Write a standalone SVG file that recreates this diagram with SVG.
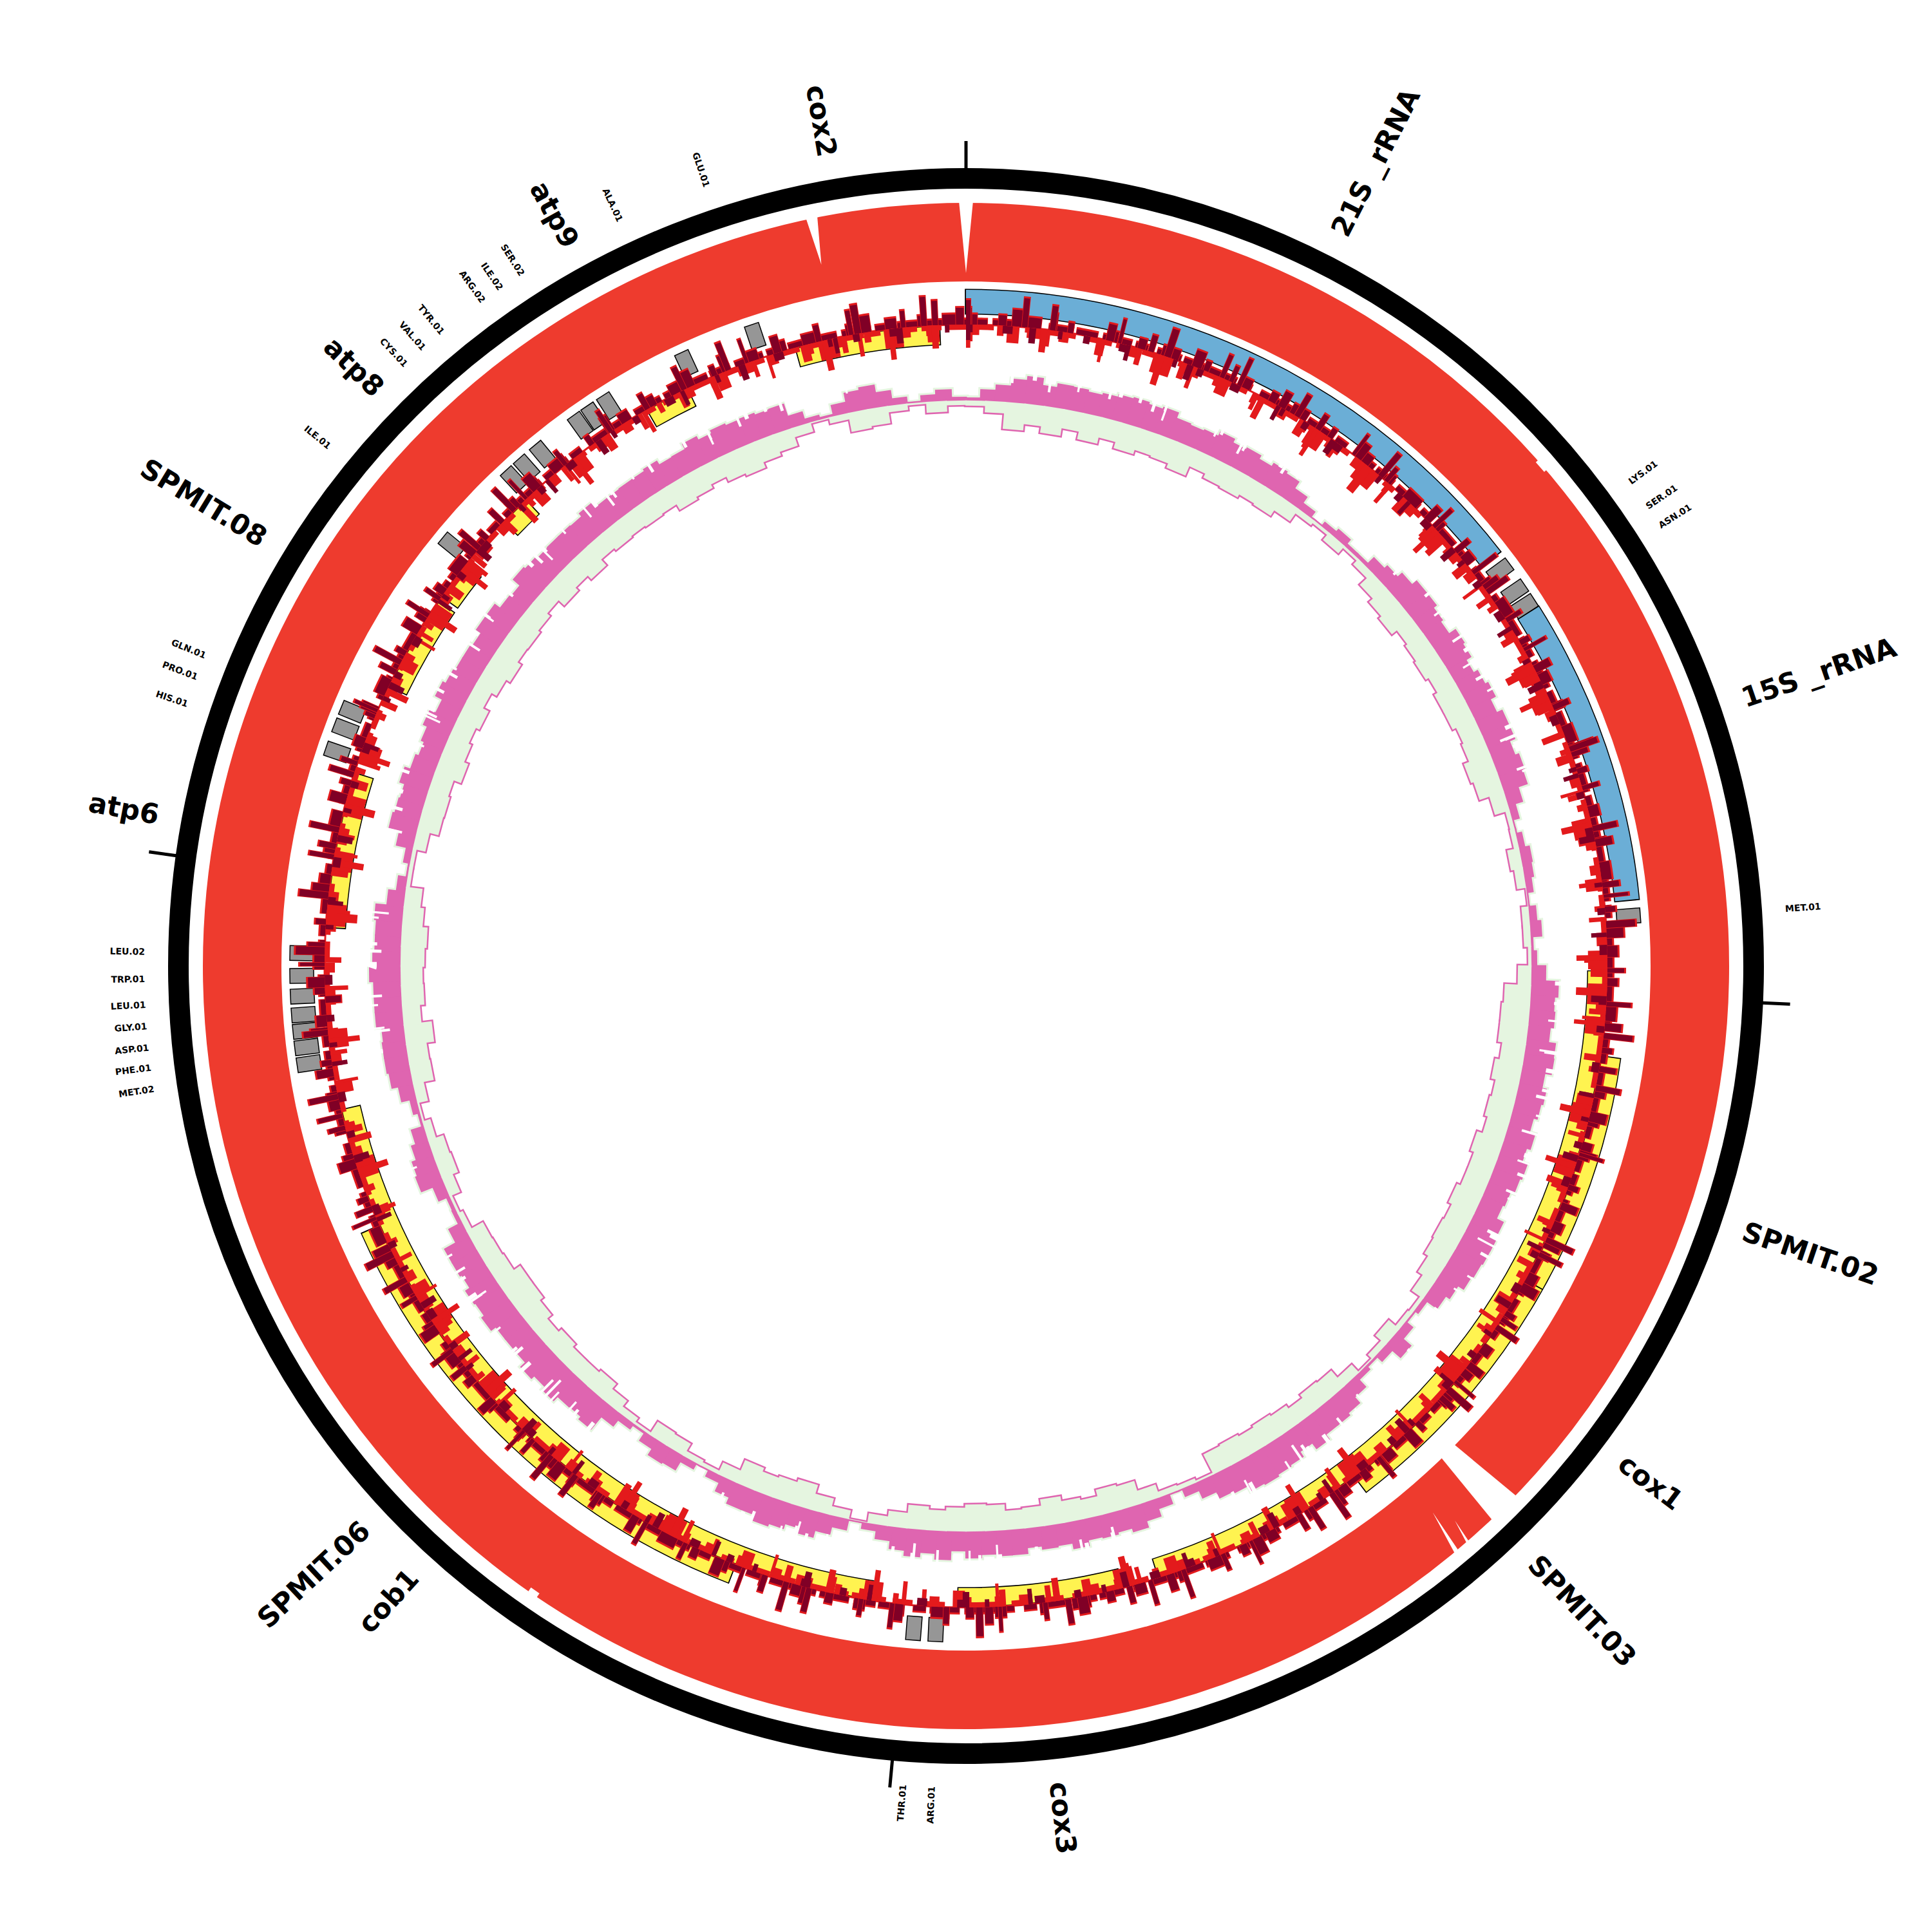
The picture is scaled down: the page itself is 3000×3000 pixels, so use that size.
<svg xmlns="http://www.w3.org/2000/svg" width="3000" height="3000" viewBox="0 0 3000 3000">
<style>
text{font-family:"DejaVu Sans","Liberation Sans",sans-serif;font-weight:bold;dominant-baseline:central;fill:#000}
.big{font-size:43px}
.sm{font-size:14px}
.l{text-anchor:end}
.tk{stroke:#000;stroke-width:5}
.tb{fill:#969696;stroke:#000;stroke-width:1.5}
.w{fill:#fff}
circle{fill:none}
</style>
<defs>
<rect id="tb" x="-11.5" y="-1050" width="23" height="37"/>
<g id="pf">
<path d="M-13-883h26v5h-26z" transform="rotate(.75)"/><path d="M-13-896h26v18h-26z" transform="rotate(2.25)"/><path d="M-13-904h26v26h-26z" transform="rotate(3.75)"/><path d="M-13-915h26v37h-26z" transform="rotate(5.25)"/><path d="M-13-921h26v43h-26z" transform="rotate(6.75)"/><path d="M-13-910h26v32h-26z" transform="rotate(8.25)"/><path d="M-13-916h26v38h-26z" transform="rotate(9.75)"/><path d="M-13-915h26v37h-26z" transform="rotate(11.25)"/><path d="M-13-912h26v34h-26z" transform="rotate(12.75)"/><path d="M-13-915h26v37h-26z" transform="rotate(14.25)"/><path d="M-13-919h26v41h-26z" transform="rotate(15.75)"/><path d="M-13-921h26v43h-26z" transform="rotate(17.25)"/><path d="M-13-918h26v40h-26z" transform="rotate(18.75)"/><path d="M-13-921h26v43h-26z" transform="rotate(20.25)"/><path d="M-13-912h26v34h-26z" transform="rotate(21.75)"/><path d="M-13-910h26v32h-26z" transform="rotate(23.25)"/><path d="M-13-912h26v34h-26z" transform="rotate(24.75)"/><path d="M-13-919h26v41h-26z" transform="rotate(26.25)"/><path d="M-13-913h26v35h-26z" transform="rotate(27.75)"/><path d="M-13-916h26v38h-26z" transform="rotate(29.25)"/><path d="M-13-910h26v32h-26z" transform="rotate(30.75)"/><path d="M-13-916h26v38h-26z" transform="rotate(32.25)"/><path d="M-13-913h26v35h-26z" transform="rotate(33.75)"/><path d="M-13-901h26v23h-26z" transform="rotate(35.25)"/><path d="M-13-890h26v12h-26z" transform="rotate(36.75)"/><path d="M-13-887h26v9h-26z" transform="rotate(39.75)"/><path d="M-13-892h26v14h-26z" transform="rotate(41.25)"/><path d="M-13-884h26v6h-26z" transform="rotate(42.75)"/><path d="M-13-884h26v6h-26z" transform="rotate(44.25)"/><path d="M-13-897h26v19h-26z" transform="rotate(45.75)"/><path d="M-13-903h26v25h-26z" transform="rotate(47.25)"/><path d="M-13-912h26v34h-26z" transform="rotate(48.75)"/><path d="M-13-921h26v43h-26z" transform="rotate(50.25)"/><path d="M-13-921h26v43h-26z" transform="rotate(51.75)"/><path d="M-13-915h26v37h-26z" transform="rotate(53.25)"/><path d="M-13-911h26v33h-26z" transform="rotate(54.75)"/><path d="M-13-923h26v45h-26z" transform="rotate(56.25)"/><path d="M-13-920h26v42h-26z" transform="rotate(57.75)"/><path d="M-13-911h26v33h-26z" transform="rotate(59.25)"/><path d="M-13-918h26v40h-26z" transform="rotate(60.75)"/><path d="M-13-923h26v45h-26z" transform="rotate(62.25)"/><path d="M-13-914h26v36h-26z" transform="rotate(63.75)"/><path d="M-13-923h26v45h-26z" transform="rotate(65.25)"/><path d="M-13-923h26v45h-26z" transform="rotate(66.75)"/><path d="M-13-914h26v36h-26z" transform="rotate(68.25)"/><path d="M-13-920h26v42h-26z" transform="rotate(69.75)"/><path d="M-13-917h26v39h-26z" transform="rotate(71.25)"/><path d="M-13-902h26v24h-26z" transform="rotate(72.75)"/><path d="M-13-890h26v12h-26z" transform="rotate(74.25)"/><path d="M-13-880h26v2h-26z" transform="rotate(75.75)"/><path d="M-13-888h26v10h-26z" transform="rotate(77.25)"/><path d="M-13-895h26v17h-26z" transform="rotate(78.75)"/><path d="M-13-893h26v15h-26z" transform="rotate(80.25)"/><path d="M-13-889h26v11h-26z" transform="rotate(81.75)"/><path d="M-13-880h26v2h-26z" transform="rotate(83.25)"/><path d="M-13-890h26v12h-26z" transform="rotate(84.75)"/><path d="M-13-896h26v18h-26z" transform="rotate(86.25)"/><path d="M-13-882h26v4h-26z" transform="rotate(87.75)"/><path d="M-13-887h26v9h-26z" transform="rotate(89.25)"/><path d="M-13-901h26v23h-26z" transform="rotate(90.75)"/><path d="M-13-921h26v43h-26z" transform="rotate(92.25)"/><path d="M-13-916h26v38h-26z" transform="rotate(93.75)"/><path d="M-13-918h26v40h-26z" transform="rotate(95.25)"/><path d="M-13-913h26v35h-26z" transform="rotate(96.75)"/><path d="M-13-924h26v46h-26z" transform="rotate(98.25)"/><path d="M-13-925h26v47h-26z" transform="rotate(99.75)"/><path d="M-13-915h26v37h-26z" transform="rotate(101.25)"/><path d="M-13-922h26v44h-26z" transform="rotate(102.75)"/><path d="M-13-919h26v41h-26z" transform="rotate(104.25)"/><path d="M-13-913h26v35h-26z" transform="rotate(105.75)"/><path d="M-13-922h26v44h-26z" transform="rotate(107.25)"/><path d="M-13-916h26v38h-26z" transform="rotate(108.75)"/><path d="M-13-925h26v47h-26z" transform="rotate(110.25)"/><path d="M-13-922h26v44h-26z" transform="rotate(111.75)"/><path d="M-13-916h26v38h-26z" transform="rotate(113.25)"/><path d="M-13-913h26v35h-26z" transform="rotate(114.75)"/><path d="M-13-925h26v47h-26z" transform="rotate(116.25)"/><path d="M-13-927h26v49h-26z" transform="rotate(117.75)"/><path d="M-13-927h26v49h-26z" transform="rotate(119.25)"/><path d="M-13-925h26v47h-26z" transform="rotate(120.75)"/><path d="M-13-922h26v44h-26z" transform="rotate(122.25)"/><path d="M-13-912h26v34h-26z" transform="rotate(123.75)"/><path d="M-13-905h26v27h-26z" transform="rotate(125.25)"/><path d="M-13-886h26v8h-26z" transform="rotate(126.75)"/><path d="M-13-881h26v3h-26z" transform="rotate(128.25)"/><path d="M-13-893h26v15h-26z" transform="rotate(129.75)"/><path d="M-13-909h26v31h-26z" transform="rotate(131.25)"/><path d="M-13-892h26v14h-26z" transform="rotate(132.75)"/><path d="M-13-882h26v4h-26z" transform="rotate(134.25)"/><path d="M-13-887h26v9h-26z" transform="rotate(135.75)"/><path d="M-13-902h26v24h-26z" transform="rotate(137.25)"/><path d="M-13-914h26v36h-26z" transform="rotate(138.75)"/><path d="M-13-918h26v40h-26z" transform="rotate(140.25)"/><path d="M-13-918h26v40h-26z" transform="rotate(141.75)"/><path d="M-13-927h26v49h-26z" transform="rotate(143.25)"/><path d="M-13-916h26v38h-26z" transform="rotate(144.75)"/><path d="M-13-925h26v47h-26z" transform="rotate(146.25)"/><path d="M-13-927h26v49h-26z" transform="rotate(147.75)"/><path d="M-13-930h26v52h-26z" transform="rotate(149.25)"/><path d="M-13-928h26v50h-26z" transform="rotate(150.75)"/><path d="M-13-919h26v41h-26z" transform="rotate(152.25)"/><path d="M-13-916h26v38h-26z" transform="rotate(153.75)"/><path d="M-13-905h26v27h-26z" transform="rotate(155.25)"/><path d="M-13-892h26v14h-26z" transform="rotate(156.75)"/><path d="M-13-880h26v2h-26z" transform="rotate(158.25)"/><path d="M-13-895h26v17h-26z" transform="rotate(159.75)"/><path d="M-13-907h26v29h-26z" transform="rotate(161.25)"/><path d="M-13-917h26v39h-26z" transform="rotate(162.75)"/><path d="M-13-911h26v33h-26z" transform="rotate(164.25)"/><path d="M-13-914h26v36h-26z" transform="rotate(165.75)"/><path d="M-13-912h26v34h-26z" transform="rotate(167.25)"/><path d="M-13-921h26v43h-26z" transform="rotate(168.75)"/><path d="M-13-912h26v34h-26z" transform="rotate(170.25)"/><path d="M-13-914h26v36h-26z" transform="rotate(171.75)"/><path d="M-13-909h26v31h-26z" transform="rotate(173.25)"/><path d="M-13-918h26v40h-26z" transform="rotate(174.75)"/><path d="M-13-918h26v40h-26z" transform="rotate(176.25)"/><path d="M-13-915h26v37h-26z" transform="rotate(177.75)"/><path d="M-13-920h26v42h-26z" transform="rotate(179.25)"/><path d="M-13-909h26v31h-26z" transform="rotate(180.75)"/><path d="M-13-923h26v45h-26z" transform="rotate(182.25)"/><path d="M-13-914h26v36h-26z" transform="rotate(183.75)"/><path d="M-13-921h26v43h-26z" transform="rotate(185.25)"/><path d="M-13-913h26v35h-26z" transform="rotate(186.75)"/><path d="M-13-901h26v23h-26z" transform="rotate(188.25)"/><path d="M-13-889h26v11h-26z" transform="rotate(189.75)"/><path d="M-13-880h26v2h-26z" transform="rotate(191.25)"/><path d="M-13-896h26v18h-26z" transform="rotate(192.75)"/><path d="M-13-908h26v30h-26z" transform="rotate(194.25)"/><path d="M-13-919h26v41h-26z" transform="rotate(195.75)"/><path d="M-13-911h26v33h-26z" transform="rotate(197.25)"/><path d="M-13-919h26v41h-26z" transform="rotate(198.75)"/><path d="M-13-923h26v45h-26z" transform="rotate(200.25)"/><path d="M-13-914h26v36h-26z" transform="rotate(201.75)"/><path d="M-13-914h26v36h-26z" transform="rotate(203.25)"/><path d="M-13-904h26v26h-26z" transform="rotate(204.75)"/><path d="M-13-890h26v12h-26z" transform="rotate(206.25)"/><path d="M-13-889h26v11h-26z" transform="rotate(209.25)"/><path d="M-13-904h26v26h-26z" transform="rotate(210.75)"/><path d="M-13-906h26v28h-26z" transform="rotate(212.25)"/><path d="M-13-895h26v17h-26z" transform="rotate(213.75)"/><path d="M-13-882h26v4h-26z" transform="rotate(215.25)"/><path d="M-13-889h26v11h-26z" transform="rotate(216.75)"/><path d="M-13-901h26v23h-26z" transform="rotate(218.25)"/><path d="M-13-926h26v48h-26z" transform="rotate(219.75)"/><path d="M-13-921h26v43h-26z" transform="rotate(221.25)"/><path d="M-13-922h26v44h-26z" transform="rotate(222.75)"/><path d="M-13-931h26v53h-26z" transform="rotate(224.25)"/><path d="M-13-925h26v47h-26z" transform="rotate(225.75)"/><path d="M-13-931h26v53h-26z" transform="rotate(227.25)"/><path d="M-13-921h26v43h-26z" transform="rotate(228.75)"/><path d="M-13-921h26v43h-26z" transform="rotate(230.25)"/><path d="M-13-921h26v43h-26z" transform="rotate(231.75)"/><path d="M-13-930h26v52h-26z" transform="rotate(233.25)"/><path d="M-13-925h26v47h-26z" transform="rotate(234.75)"/><path d="M-13-927h26v49h-26z" transform="rotate(236.25)"/><path d="M-13-919h26v41h-26z" transform="rotate(237.75)"/><path d="M-13-922h26v44h-26z" transform="rotate(239.25)"/><path d="M-13-922h26v44h-26z" transform="rotate(240.75)"/><path d="M-13-902h26v24h-26z" transform="rotate(242.25)"/><path d="M-13-885h26v7h-26z" transform="rotate(243.75)"/><path d="M-13-884h26v6h-26z" transform="rotate(245.25)"/><path d="M-13-897h26v19h-26z" transform="rotate(246.75)"/><path d="M-13-916h26v38h-26z" transform="rotate(248.25)"/><path d="M-13-913h26v35h-26z" transform="rotate(249.75)"/><path d="M-13-906h26v28h-26z" transform="rotate(251.25)"/><path d="M-13-899h26v21h-26z" transform="rotate(252.75)"/><path d="M-13-882h26v4h-26z" transform="rotate(254.25)"/><path d="M-13-889h26v11h-26z" transform="rotate(255.75)"/><path d="M-13-902h26v24h-26z" transform="rotate(257.25)"/><path d="M-13-912h26v34h-26z" transform="rotate(258.75)"/><path d="M-13-915h26v37h-26z" transform="rotate(260.25)"/><path d="M-13-915h26v37h-26z" transform="rotate(261.75)"/><path d="M-13-913h26v35h-26z" transform="rotate(263.25)"/><path d="M-13-921h26v43h-26z" transform="rotate(264.75)"/><path d="M-13-921h26v43h-26z" transform="rotate(266.25)"/><path d="M-13-921h26v43h-26z" transform="rotate(267.75)"/><path d="M-13-927h26v49h-26z" transform="rotate(269.25)"/><path d="M-13-922h26v44h-26z" transform="rotate(270.75)"/><path d="M-13-919h26v41h-26z" transform="rotate(272.25)"/><path d="M-13-919h26v41h-26z" transform="rotate(273.75)"/><path d="M-13-922h26v44h-26z" transform="rotate(275.25)"/><path d="M-13-905h26v27h-26z" transform="rotate(276.75)"/><path d="M-13-893h26v15h-26z" transform="rotate(278.25)"/><path d="M-13-881h26v3h-26z" transform="rotate(279.75)"/><path d="M-13-889h26v11h-26z" transform="rotate(281.25)"/><path d="M-13-905h26v27h-26z" transform="rotate(282.75)"/><path d="M-13-922h26v44h-26z" transform="rotate(284.25)"/><path d="M-13-919h26v41h-26z" transform="rotate(285.75)"/><path d="M-13-917h26v39h-26z" transform="rotate(287.25)"/><path d="M-13-925h26v47h-26z" transform="rotate(288.75)"/><path d="M-13-916h26v38h-26z" transform="rotate(290.25)"/><path d="M-13-911h26v33h-26z" transform="rotate(291.75)"/><path d="M-13-916h26v38h-26z" transform="rotate(293.25)"/><path d="M-13-923h26v45h-26z" transform="rotate(294.75)"/><path d="M-13-913h26v35h-26z" transform="rotate(296.25)"/><path d="M-13-925h26v47h-26z" transform="rotate(297.75)"/><path d="M-13-920h26v42h-26z" transform="rotate(299.25)"/><path d="M-13-917h26v39h-26z" transform="rotate(300.75)"/><path d="M-13-917h26v39h-26z" transform="rotate(302.25)"/><path d="M-13-914h26v36h-26z" transform="rotate(303.75)"/><path d="M-13-923h26v45h-26z" transform="rotate(305.25)"/><path d="M-13-923h26v45h-26z" transform="rotate(306.75)"/><path d="M-13-913h26v35h-26z" transform="rotate(308.25)"/><path d="M-13-911h26v33h-26z" transform="rotate(309.75)"/><path d="M-13-925h26v47h-26z" transform="rotate(311.25)"/><path d="M-13-922h26v44h-26z" transform="rotate(312.75)"/><path d="M-13-919h26v41h-26z" transform="rotate(314.25)"/><path d="M-13-920h26v42h-26z" transform="rotate(315.75)"/><path d="M-13-920h26v42h-26z" transform="rotate(317.25)"/><path d="M-13-919h26v41h-26z" transform="rotate(318.75)"/><path d="M-13-925h26v47h-26z" transform="rotate(320.25)"/><path d="M-13-916h26v38h-26z" transform="rotate(321.75)"/><path d="M-13-916h26v38h-26z" transform="rotate(323.25)"/><path d="M-13-917h26v39h-26z" transform="rotate(324.75)"/><path d="M-13-917h26v39h-26z" transform="rotate(326.25)"/><path d="M-13-920h26v42h-26z" transform="rotate(327.75)"/><path d="M-13-913h26v35h-26z" transform="rotate(329.25)"/><path d="M-13-914h26v36h-26z" transform="rotate(330.75)"/><path d="M-13-923h26v45h-26z" transform="rotate(332.25)"/><path d="M-13-917h26v39h-26z" transform="rotate(333.75)"/><path d="M-13-922h26v44h-26z" transform="rotate(335.25)"/><path d="M-13-919h26v41h-26z" transform="rotate(336.75)"/><path d="M-13-920h26v42h-26z" transform="rotate(338.25)"/><path d="M-13-917h26v39h-26z" transform="rotate(339.75)"/><path d="M-13-918h26v40h-26z" transform="rotate(341.25)"/><path d="M-13-898h26v20h-26z" transform="rotate(342.75)"/><path d="M-13-886h26v8h-26z" transform="rotate(344.25)"/><path d="M-13-882h26v4h-26z" transform="rotate(345.75)"/><path d="M-13-896h26v18h-26z" transform="rotate(347.25)"/><path d="M-13-910h26v32h-26z" transform="rotate(348.75)"/><path d="M-13-914h26v36h-26z" transform="rotate(350.25)"/><path d="M-13-902h26v24h-26z" transform="rotate(351.75)"/><path d="M-13-889h26v11h-26z" transform="rotate(353.25)"/><path d="M-13-880h26v2h-26z" transform="rotate(354.75)"/><path d="M-13-889h26v11h-26z" transform="rotate(356.25)"/><path d="M-13-896h26v18h-26z" transform="rotate(357.75)"/><path d="M-13-884h26v6h-26z" transform="rotate(359.25)"/>
</g>
<g id="gf">
<path d="M-16-878h32v8h-32z" transform="rotate(1)"/><path d="M-16-878h32v18h-32z" transform="rotate(3)"/><path d="M-16-878h32v42h-32z" transform="rotate(5)"/><path d="M-16-878h32v32h-32z" transform="rotate(7)"/><path d="M-16-878h32v42h-32z" transform="rotate(9)"/><path d="M-16-878h32v30h-32z" transform="rotate(11)"/><path d="M-16-878h32v42h-32z" transform="rotate(13)"/><path d="M-16-878h32v32h-32z" transform="rotate(15)"/><path d="M-16-878h32v42h-32z" transform="rotate(17)"/><path d="M-16-878h32v35h-32z" transform="rotate(19)"/><path d="M-16-878h32v37h-32z" transform="rotate(21)"/><path d="M-16-878h32v44h-32z" transform="rotate(23)"/><path d="M-16-878h32v28h-32z" transform="rotate(25)"/><path d="M-16-878h32v35h-32z" transform="rotate(27)"/><path d="M-16-878h32v37h-32z" transform="rotate(29)"/><path d="M-16-878h32v32h-32z" transform="rotate(31)"/><path d="M-16-878h32v34h-32z" transform="rotate(33)"/><path d="M-16-878h32v24h-32z" transform="rotate(35)"/><path d="M-16-878h32v9h-32z" transform="rotate(37)"/><path d="M-16-878h32v5h-32z" transform="rotate(39)"/><path d="M-16-878h32v15h-32z" transform="rotate(41)"/><path d="M-16-878h32v4h-32z" transform="rotate(43)"/><path d="M-16-878h32v12h-32z" transform="rotate(45)"/><path d="M-16-878h32v27h-32z" transform="rotate(47)"/><path d="M-16-878h32v35h-32z" transform="rotate(49)"/><path d="M-16-878h32v40h-32z" transform="rotate(51)"/><path d="M-16-878h32v30h-32z" transform="rotate(53)"/><path d="M-16-878h32v34h-32z" transform="rotate(55)"/><path d="M-16-878h32v37h-32z" transform="rotate(57)"/><path d="M-16-878h32v32h-32z" transform="rotate(59)"/><path d="M-16-878h32v38h-32z" transform="rotate(61)"/><path d="M-16-878h32v38h-32z" transform="rotate(63)"/><path d="M-16-878h32v32h-32z" transform="rotate(65)"/><path d="M-16-878h32v35h-32z" transform="rotate(67)"/><path d="M-16-878h32v44h-32z" transform="rotate(69)"/><path d="M-16-878h32v40h-32z" transform="rotate(71)"/><path d="M-16-878h32v24h-32z" transform="rotate(73)"/><path d="M-16-878h32v7h-32z" transform="rotate(75)"/><path d="M-16-878h32v8h-32z" transform="rotate(77)"/><path d="M-16-878h32v19h-32z" transform="rotate(79)"/><path d="M-16-878h32v14h-32z" transform="rotate(81)"/><path d="M-16-878h32v1h-32z" transform="rotate(83)"/><path d="M-16-878h32v11h-32z" transform="rotate(85)"/><path d="M-16-878h32v11h-32z" transform="rotate(87)"/><path d="M-16-878h32v5h-32z" transform="rotate(89)"/><path d="M-16-878h32v21h-32z" transform="rotate(91)"/><path d="M-16-878h32v41h-32z" transform="rotate(93)"/><path d="M-16-878h32v44h-32z" transform="rotate(95)"/><path d="M-16-878h32v44h-32z" transform="rotate(97)"/><path d="M-16-878h32v37h-32z" transform="rotate(99)"/><path d="M-16-878h32v44h-32z" transform="rotate(101)"/><path d="M-16-878h32v37h-32z" transform="rotate(103)"/><path d="M-16-878h32v40h-32z" transform="rotate(105)"/><path d="M-16-878h32v35h-32z" transform="rotate(107)"/><path d="M-16-878h32v44h-32z" transform="rotate(109)"/><path d="M-16-878h32v38h-32z" transform="rotate(111)"/><path d="M-16-878h32v38h-32z" transform="rotate(113)"/><path d="M-16-878h32v44h-32z" transform="rotate(115)"/><path d="M-16-878h32v38h-32z" transform="rotate(117)"/><path d="M-16-878h32v40h-32z" transform="rotate(119)"/><path d="M-16-878h32v38h-32z" transform="rotate(121)"/><path d="M-16-878h32v31h-32z" transform="rotate(123)"/><path d="M-16-878h32v22h-32z" transform="rotate(125)"/><path d="M-16-878h32v6h-32z" transform="rotate(127)"/><path d="M-16-878h32v8h-32z" transform="rotate(129)"/><path d="M-16-878h32v22h-32z" transform="rotate(131)"/><path d="M-16-878h32v10h-32z" transform="rotate(133)"/><path d="M-16-878h32v2h-32z" transform="rotate(135)"/><path d="M-16-878h32v17h-32z" transform="rotate(137)"/><path d="M-16-878h32v32h-32z" transform="rotate(139)"/><path d="M-16-878h32v34h-32z" transform="rotate(141)"/><path d="M-16-878h32v28h-32z" transform="rotate(143)"/><path d="M-16-878h32v34h-32z" transform="rotate(145)"/><path d="M-16-878h32v37h-32z" transform="rotate(147)"/><path d="M-16-878h32v34h-32z" transform="rotate(149)"/><path d="M-16-878h32v37h-32z" transform="rotate(151)"/><path d="M-16-878h32v35h-32z" transform="rotate(153)"/><path d="M-16-878h32v3h-32z" transform="rotate(155)"/><path d="M-16-878h32v7h-32z" transform="rotate(157)"/><path d="M-16-878h32v9h-32z" transform="rotate(159)"/><path d="M-16-878h32v21h-32z" transform="rotate(161)"/><path d="M-16-878h32v37h-32z" transform="rotate(163)"/><path d="M-16-878h32v40h-32z" transform="rotate(165)"/><path d="M-16-878h32v30h-32z" transform="rotate(167)"/><path d="M-16-878h32v34h-32z" transform="rotate(169)"/><path d="M-16-878h32v42h-32z" transform="rotate(171)"/><path d="M-16-878h32v32h-32z" transform="rotate(173)"/><path d="M-16-878h32v30h-32z" transform="rotate(175)"/><path d="M-16-878h32v40h-32z" transform="rotate(177)"/><path d="M-16-878h32v42h-32z" transform="rotate(179)"/><path d="M-16-878h32v37h-32z" transform="rotate(181)"/><path d="M-16-878h32v32h-32z" transform="rotate(183)"/><path d="M-16-878h32v37h-32z" transform="rotate(185)"/><path d="M-16-878h32v24h-32z" transform="rotate(187)"/><path d="M-16-878h32v15h-32z" transform="rotate(189)"/><path d="M-16-878h32v1h-32z" transform="rotate(191)"/><path d="M-16-878h32v14h-32z" transform="rotate(193)"/><path d="M-16-878h32v26h-32z" transform="rotate(195)"/><path d="M-16-878h32v40h-32z" transform="rotate(197)"/><path d="M-16-878h32v35h-32z" transform="rotate(199)"/><path d="M-16-878h32v32h-32z" transform="rotate(201)"/><path d="M-16-878h32v38h-32z" transform="rotate(203)"/><path d="M-16-878h32v20h-32z" transform="rotate(205)"/><path d="M-16-878h32v6h-32z" transform="rotate(207)"/><path d="M-16-878h32v9h-32z" transform="rotate(209)"/><path d="M-16-878h32v22h-32z" transform="rotate(211)"/><path d="M-16-878h32v24h-32z" transform="rotate(213)"/><path d="M-16-878h32v4h-32z" transform="rotate(215)"/><path d="M-16-878h32v11h-32z" transform="rotate(217)"/><path d="M-16-878h32v22h-32z" transform="rotate(219)"/><path d="M-16-878h32v32h-32z" transform="rotate(221)"/><path d="M-16-878h32v28h-32z" transform="rotate(223)"/><path d="M-16-878h32v28h-32z" transform="rotate(225)"/><path d="M-16-878h32v34h-32z" transform="rotate(227)"/><path d="M-16-878h32v28h-32z" transform="rotate(229)"/><path d="M-16-878h32v37h-32z" transform="rotate(231)"/><path d="M-16-878h32v44h-32z" transform="rotate(233)"/><path d="M-16-878h32v44h-32z" transform="rotate(235)"/><path d="M-16-878h32v32h-32z" transform="rotate(237)"/><path d="M-16-878h32v30h-32z" transform="rotate(239)"/><path d="M-16-878h32v29h-32z" transform="rotate(241)"/><path d="M-16-878h32v9h-32z" transform="rotate(243)"/><path d="M-16-878h32v4h-32z" transform="rotate(245)"/><path d="M-16-878h32v18h-32z" transform="rotate(247)"/><path d="M-16-878h32v27h-32z" transform="rotate(249)"/><path d="M-16-878h32v25h-32z" transform="rotate(251)"/><path d="M-16-878h32v13h-32z" transform="rotate(253)"/><path d="M-16-878h32v3h-32z" transform="rotate(255)"/><path d="M-16-878h32v17h-32z" transform="rotate(257)"/><path d="M-16-878h32v33h-32z" transform="rotate(259)"/><path d="M-16-878h32v32h-32z" transform="rotate(261)"/><path d="M-16-878h32v44h-32z" transform="rotate(263)"/><path d="M-16-878h32v28h-32z" transform="rotate(265)"/><path d="M-16-878h32v35h-32z" transform="rotate(267)"/><path d="M-16-878h32v34h-32z" transform="rotate(269)"/><path d="M-16-878h32v37h-32z" transform="rotate(271)"/><path d="M-16-878h32v40h-32z" transform="rotate(273)"/><path d="M-16-878h32v32h-32z" transform="rotate(275)"/><path d="M-16-878h32v26h-32z" transform="rotate(277)"/><path d="M-16-878h32v6h-32z" transform="rotate(279)"/><path d="M-16-878h32v6h-32z" transform="rotate(281)"/><path d="M-16-878h32v20h-32z" transform="rotate(283)"/><path d="M-16-878h32v34h-32z" transform="rotate(285)"/><path d="M-16-878h32v35h-32z" transform="rotate(287)"/><path d="M-16-878h32v32h-32z" transform="rotate(289)"/><path d="M-16-878h32v44h-32z" transform="rotate(291)"/><path d="M-16-878h32v37h-32z" transform="rotate(293)"/><path d="M-16-878h32v32h-32z" transform="rotate(295)"/><path d="M-16-878h32v38h-32z" transform="rotate(297)"/><path d="M-16-878h32v28h-32z" transform="rotate(299)"/><path d="M-16-878h32v37h-32z" transform="rotate(301)"/><path d="M-16-878h32v44h-32z" transform="rotate(303)"/><path d="M-16-878h32v37h-32z" transform="rotate(305)"/><path d="M-16-878h32v38h-32z" transform="rotate(307)"/><path d="M-16-878h32v34h-32z" transform="rotate(309)"/><path d="M-16-878h32v28h-32z" transform="rotate(311)"/><path d="M-16-878h32v40h-32z" transform="rotate(313)"/><path d="M-16-878h32v34h-32z" transform="rotate(315)"/><path d="M-16-878h32v42h-32z" transform="rotate(317)"/><path d="M-16-878h32v30h-32z" transform="rotate(319)"/><path d="M-16-878h32v34h-32z" transform="rotate(321)"/><path d="M-16-878h32v32h-32z" transform="rotate(323)"/><path d="M-16-878h32v34h-32z" transform="rotate(325)"/><path d="M-16-878h32v32h-32z" transform="rotate(327)"/><path d="M-16-878h32v42h-32z" transform="rotate(329)"/><path d="M-16-878h32v38h-32z" transform="rotate(331)"/><path d="M-16-878h32v32h-32z" transform="rotate(333)"/><path d="M-16-878h32v40h-32z" transform="rotate(335)"/><path d="M-16-878h32v44h-32z" transform="rotate(337)"/><path d="M-16-878h32v35h-32z" transform="rotate(339)"/><path d="M-16-878h32v29h-32z" transform="rotate(341)"/><path d="M-16-878h32v15h-32z" transform="rotate(343)"/><path d="M-16-878h32v2h-32z" transform="rotate(345)"/><path d="M-16-878h32v10h-32z" transform="rotate(347)"/><path d="M-16-878h32v30h-32z" transform="rotate(349)"/><path d="M-16-878h32v27h-32z" transform="rotate(351)"/><path d="M-16-878h32v10h-32z" transform="rotate(353)"/><path d="M-16-878h32v3h-32z" transform="rotate(355)"/><path d="M-16-878h32v17h-32z" transform="rotate(357)"/><path d="M-16-878h32v7h-32z" transform="rotate(359)"/>
</g>
</defs>
<rect width="3000" height="3000" fill="#fff"/>
<g id="plot" transform="translate(1500 1500)">
<g id="ideogram">
<circle r="1223" stroke="#000" stroke-width="32"/>
<line class="tk" y1="-1238" y2="-1281"/>
<line class="tk" y1="-1238" y2="-1281" transform="rotate(92.65)"/>
<line class="tk" y1="-1238" y2="-1281" transform="rotate(185.3)"/>
<line class="tk" y1="-1238" y2="-1281" transform="rotate(277.95)"/>
</g>
<g id="coverage">
<circle r="1124" stroke="#ee3b2e" stroke-width="122"/>
<polygon class="w" points="-11.4,-1192 11.4,-1192 0,-1076"/>
<polygon class="w" points="-9.5,-1192 9.5,-1192 0,-1112" transform="rotate(348.35)"/>
<rect class="w" x="-10" y="-1192" width="20" height="11" transform="rotate(49)"/>
<polygon class="w" points="-13.8,-1056 13.8,-1056 27,-1192 -27,-1192" transform="rotate(135.2)"/>
<polygon class="w" points="5.8,-1192 10.8,-1192 0,-1148" transform="rotate(138.6)"/>
<polygon class="w" points="8.5,-1192 16.5,-1192 0,-1116" transform="rotate(139.5)"/>
<rect class="w" x="-8" y="-1192" width="16" height="14" transform="rotate(214.6)"/>
</g>
<g id="gc-track">
<use href="#pf" fill="#e5f5e0" stroke="#e5f5e0" stroke-width="6"/>
<use href="#pf" fill="#df65b0"/>
<circle r="932.5" stroke="#fff" stroke-width="35" pathLength="360" stroke-dasharray=".3 2.3 .2 3.7 .4 1.6" transform="rotate(-90)"/>
<circle r="929" stroke="#fff" stroke-width="42" pathLength="360" stroke-dasharray=".25 4.1 .3 6.3 .2 2.9" transform="rotate(-90)"/>
<circle r="925" stroke="#fff" stroke-width="50" pathLength="360" stroke-dasharray=".2 7.9 .25 11.3" transform="rotate(-90)"/>
<use href="#gf" fill="#df65b0" stroke="#df65b0" stroke-width="5"/>
<use href="#gf" fill="#e5f5e0"/>
</g>
<g id="genes">
<circle r="980" stroke="#000" stroke-width="31" pathLength="360" stroke-dasharray="0 90.4 72.2 3.2 15 7.5 68.8 16.3 14.2 8.2 8.9 0.4 3.7 5 2.9 13.4 4.2 10.2 13.2 10" transform="rotate(-90)"/>
<circle r="980" stroke="#fff350" stroke-width="28" pathLength="360" stroke-dasharray="0 90.5 72 3.4 14.8 7.7 68.6 16.5 14 8.4 8.7 0.6 3.5 5.2 2.7 13.6 4 10.4 13 10" transform="rotate(-90)"/>
<circle r="1012" stroke="#000" stroke-width="31" pathLength="360" stroke-dasharray="0 98 44.8 58.2 45.2 200" transform="rotate(-90)"/>
<circle r="1012" stroke="#fff350" stroke-width="28" pathLength="360" stroke-dasharray="0 98.1 21.15 0.1 23.35 58.4 45 200" transform="rotate(-90)"/>
<circle r="1031.5" stroke="#000" stroke-width="40" pathLength="360" stroke-dasharray="52.4 5.5 26.6 400" transform="rotate(-90.1)"/>
<circle r="1031.5" stroke="#6baed6" stroke-width="37" pathLength="360" stroke-dasharray="52.2 5.7 26.4 400" transform="rotate(-90)"/>
<g id="trna">
<use href="#tb" class="tb" transform="rotate(341.5)"/><use href="#tb" class="tb" transform="rotate(335.1)"/><use href="#tb" class="tb" transform="rotate(327.5)"/><use href="#tb" class="tb" transform="rotate(325.9)"/><use href="#tb" class="tb" transform="rotate(324.5)"/><use href="#tb" class="tb" transform="rotate(320.4)"/><use href="#tb" class="tb" transform="rotate(318.6)"/><use href="#tb" class="tb" transform="rotate(317.1)"/><use href="#tb" class="tb" transform="rotate(309.3)"/><use href="#tb" class="tb" transform="rotate(292.5)"/><use href="#tb" class="tb" transform="rotate(290.9)"/><use href="#tb" class="tb" transform="rotate(288.8)"/><use href="#tb" class="tb" transform="rotate(271.1)"/><use href="#tb" class="tb" transform="rotate(269.15)"/><use href="#tb" class="tb" transform="rotate(267.4)"/><use href="#tb" class="tb" transform="rotate(265.8)"/><use href="#tb" class="tb" transform="rotate(264.4)"/><use href="#tb" class="tb" transform="rotate(263)"/><use href="#tb" class="tb" transform="rotate(261.55)"/><use href="#tb" class="tb" transform="rotate(184.5)"/><use href="#tb" class="tb" transform="rotate(182.6)"/><use href="#tb" class="tb" transform="rotate(53.5)"/><use href="#tb" class="tb" transform="rotate(55.7)"/><use href="#tb" class="tb" transform="rotate(57.2)"/><use href="#tb" class="tb" transform="rotate(85.7)"/>
</g>
</g>
<g id="histogram">
<circle r="996" stroke="#e31a1c" stroke-width="3"/>
<circle r="1001.5" stroke="#e31a1c" stroke-width="11" pathLength="360" stroke-dasharray="2 .4 2.7 .3 1.2 .8 2.3 .2" stroke-dashoffset=".05" transform="rotate(-90)"/>
<circle r="1000" stroke="#800026" stroke-width="8" pathLength="360" stroke-dasharray="1.9 .5 2.6 .4 1.1 .9 2.2 .3" transform="rotate(-90)"/>
<circle r="1005.5" stroke="#e31a1c" stroke-width="19" pathLength="360" stroke-dasharray="1.1 1.8 .8 1.4 1.7 2.3 .6 2.9" stroke-dashoffset=".05" transform="rotate(-90)"/>
<circle r="1004" stroke="#800026" stroke-width="16" pathLength="360" stroke-dasharray="1 1.9 .7 1.5 1.6 2.4 .5 3" transform="rotate(-90)"/>
<circle r="1010.5" stroke="#e31a1c" stroke-width="29" pathLength="360" stroke-dasharray=".6 3.5 1 2.6 .5 4.4 .8 3.1" stroke-dashoffset=".05" transform="rotate(-90)"/>
<circle r="1009" stroke="#800026" stroke-width="26" pathLength="360" stroke-dasharray=".5 3.6 .9 2.7 .4 4.5 .7 3.2" transform="rotate(-90)"/>
<circle r="1016.5" stroke="#e31a1c" stroke-width="41" pathLength="360" stroke-dasharray=".5 7 .6 5.6 .4 9.2" stroke-dashoffset=".05" transform="rotate(-90)"/>
<circle r="1015" stroke="#800026" stroke-width="38" pathLength="360" stroke-dasharray=".4 7.1 .5 5.7 .3 9.3" transform="rotate(-90)"/>
<circle r="1020" stroke="#e31a1c" stroke-width="48" pathLength="360" stroke-dasharray="0 4.95 .6 12.4 .7 6.3 .5 14.5 .6 11.4 .5 17.5 .6 15.4 .7 9.3 .6 18.4 .6 15.4 .7 13.3 .6 14.4 .5 18 .7 16.8 .6 23.4 .6 22.4 .7 14.3 .6 12.4 .8 4.2 .7 5.3 .6 15.4 .6 16.4 .6 22.4 .6 11.4 .7 5.3 .6 20" transform="rotate(-90)"/>
<circle r="1018.5" stroke="#800026" stroke-width="45" pathLength="360" stroke-dasharray="0 5 .5 12.5 .6 6.4 .4 14.6 .5 11.5 .4 17.6 .5 15.5 .6 9.4 .5 18.5 .5 15.5 .6 13.4 .5 14.5 .4 18.1 .6 16.9 .5 23.5 .5 22.5 .6 14.4 .5 12.5 .7 4.3 .6 5.4 .5 15.5 .5 16.5 .5 22.5 .5 11.5 .6 5.4 .5 20" transform="rotate(-90)"/>
<circle r="992" stroke="#e31a1c" stroke-width="8" pathLength="360" stroke-dasharray="2.5 .4 1.8 .6 3.1 .3 1.2 .8" transform="rotate(-90)"/>
<circle r="988" stroke="#e31a1c" stroke-width="16" pathLength="360" stroke-dasharray="1.2 1.6 .6 2.1 1.5 1.4 .9 2.8 .5 1.9" transform="rotate(-90)"/>
<circle r="983" stroke="#e31a1c" stroke-width="26" pathLength="360" stroke-dasharray=".6 3.1 1.1 2.4 .4 4.2 .8 2.9 .5 3.6" transform="rotate(-90)"/>
<circle r="978" stroke="#e31a1c" stroke-width="36" pathLength="360" stroke-dasharray=".4 6.3 .6 4.9 .3 8.1" transform="rotate(-90)"/>
<circle r="981" stroke="#e31a1c" stroke-width="30" pathLength="360" stroke-dasharray="0 17.1 1.8 13.7 1.6 3.9 2 6.5 1.7 13.3 1.9 1.1 1.7 10.3 1.8 10.2 1.7 1.3 1.9 1.1 1.6 6.4 1.8 3.2 1.7 19.3 1.9 11.1 1.8 4.2 1.7 15.3 1.8 21.2 1.7 17.3 1.8 3.2 1.7 14.3 1.9 6.1 1.7 13.3 1.8 10.2 1.7 9.3 2 3 1.8 3.2 1.9 3.1 1.7 12.3 1.8 3.2 1.7 12.3 1.7 23.3 1.8 4.2 1.7 20" transform="rotate(-90)"/>
<circle r="972" stroke="#e31a1c" stroke-width="48" pathLength="360" stroke-dasharray="0 17.5 .6 14.9 .4 5.1 .8 7.7 .5 14.5 .7 2.3 .5 11.5 .6 11.4 .5 2.5 .7 2.3 .4 7.6 .6 4.4 .5 20.5 .7 12.3 .6 5.4 .5 16.5 .6 22.4 .5 18.5 .6 4.4 .5 15.5 .7 7.3 .5 14.5 .6 11.4 .5 10.5 .8 4.2 .6 4.4 .7 4.3 .5 13.5 .6 4.4 .5 13.5 .5 24.5 .6 5.4 .5 20" transform="rotate(-90)"/>
<circle r="990" stroke="#800026" stroke-width="12" pathLength="360" stroke-dasharray=".6 2.7 .9 4.1 .4 1.9" transform="rotate(-90)"/>
<circle r="984" stroke="#800026" stroke-width="24" pathLength="360" stroke-dasharray=".4 5.3 .6 8.2" transform="rotate(-90)"/>
</g>
<g id="labels">
<text class="big" x="1275" transform="rotate(-63)">21S _rRNA</text>
<text class="big" x="1275" transform="rotate(-19)">15S _rRNA</text>
<text class="big" x="1275" transform="rotate(18.8)">SPMIT.02</text>
<text class="big" x="1275" transform="rotate(37)">cox1</text>
<text class="big" x="1275" transform="rotate(46.3)">SPMIT.03</text>
<text class="big" x="1275" transform="rotate(83.5)">cox3</text>
<text class="big l" x="-1275" transform="rotate(80.3)">cox2</text>
<text class="big l" x="-1275" transform="rotate(61.3)">atp9</text>
<text class="big l" x="-1275" transform="rotate(44.4)">atp8</text>
<text class="big l" x="-1275" transform="rotate(31.3)">SPMIT.08</text>
<text class="big l" x="-1275" transform="rotate(10.6)">atp6</text>
<text class="big l" x="-1275" transform="rotate(-43)">SPMIT.06</text>
<text class="big l" x="-1275" transform="rotate(-47.7)">cob1</text>
<text class="sm" x="1275" transform="rotate(-36.1)">LYS.01</text>
<text class="sm" x="1275" transform="rotate(-34)">SER.01</text>
<text class="sm" x="1275" transform="rotate(-32.4)">ASN.01</text>
<text class="sm" x="1275" transform="rotate(-4)">MET.01</text>
<text class="sm l" x="-1275" transform="rotate(71.6)">GLU.01</text>
<text class="sm l" x="-1275" transform="rotate(65.1)">ALA.01</text>
<text class="sm l" x="-1275" transform="rotate(57.3)">SER.02</text>
<text class="sm l" x="-1275" transform="rotate(55.5)">ILE.02</text>
<text class="sm l" x="-1275" transform="rotate(54)">ARG.02</text>
<text class="sm l" x="-1275" transform="rotate(50.4)">TYR.01</text>
<text class="sm l" x="-1275" transform="rotate(48.7)">VAL.01</text>
<text class="sm l" x="-1275" transform="rotate(47)">CYS.01</text>
<text class="sm l" x="-1275" transform="rotate(39.2)">ILE.01</text>
<text class="sm l" x="-1275" transform="rotate(22.2)">GLN.01</text>
<text class="sm l" x="-1275" transform="rotate(20.6)">PRO.01</text>
<text class="sm l" x="-1275" transform="rotate(18.6)">HIS.01</text>
<text class="sm l" x="-1275" transform="rotate(1)">LEU.02</text>
<text class="sm l" x="-1275" transform="rotate(-0.9)">TRP.01</text>
<text class="sm l" x="-1275" transform="rotate(-2.7)">LEU.01</text>
<text class="sm l" x="-1275" transform="rotate(-4.2)">GLY.01</text>
<text class="sm l" x="-1275" transform="rotate(-5.7)">ASP.01</text>
<text class="sm l" x="-1275" transform="rotate(-7.1)">PHE.01</text>
<text class="sm l" x="-1275" transform="rotate(-8.6)">MET.02</text>
<text class="sm l" x="-1275" transform="rotate(-85.6)">THR.01</text>
<text class="sm l" x="-1275" transform="rotate(-87.6)">ARG.01</text>
</g>
</g>
</svg>
